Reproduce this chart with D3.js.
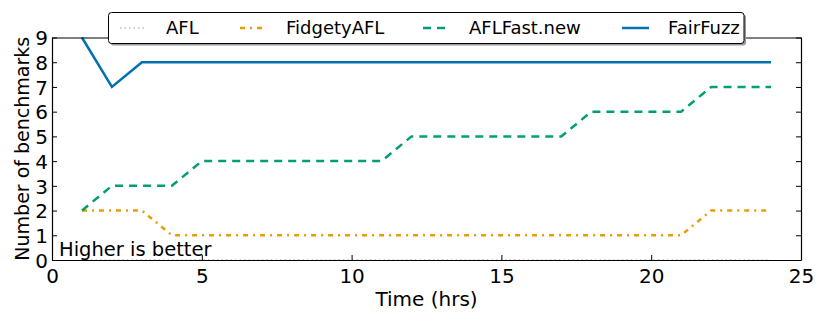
<!DOCTYPE html>
<html>
<head>
<meta charset="utf-8">
<script src="https://cdn.jsdelivr.net/npm/d3@7"></script>
<style>
  body { margin: 0; background: #fff; }
  text { font-family: "DejaVu Sans", sans-serif; }
</style>
</head>
<body>
<div id="chart"></div>
<script>
const width = 830;
const height = 315;

// data
const hours = [1, 2, 3, 4, 5, 6, 7, 8, 9, 10, 11, 12, 13, 14, 15, 16, 17, 18, 19, 20, 21, 22, 23, 24];
const afl = [0, 0, 0, 0, 0, 0, 0, 0, 0, 0, 0, 0, 0, 0, 0, 0, 0, 0, 0, 0, 0, 0, 0, 0];
const fidgety = [2, 2, 2, 1, 1, 1, 1, 1, 1, 1, 1, 1, 1, 1, 1, 1, 1, 1, 1, 1, 1, 2, 2, 2];
const aflfast = [2, 3, 3, 3, 4, 4, 4, 4, 4, 4, 4, 5, 5, 5, 5, 5, 5, 6, 6, 6, 6, 7, 7, 7];
const fairfuzz = [9, 7, 8, 8, 8, 8, 8, 8, 8, 8, 8, 8, 8, 8, 8, 8, 8, 8, 8, 8, 8, 8, 8, 8];
const xTicks = [0, 5, 10, 15, 20, 25];
const yTicks = [0, 1, 2, 3, 4, 5, 6, 7, 8, 9];

const series = [
  { name: 'AFL', values: afl, color: '#999999', dash: '1.5,3', width: 1.2 },
  { name: 'FidgetyAFL', values: fidgety, color: '#E69F00', dash: '5,5,2,5', width: 2.5 },
  { name: 'AFLFast.new', values: aflfast, color: '#009E73', dash: '8,6', width: 2.5 },
  { name: 'FairFuzz', values: fairfuzz, color: '#0072B2', dash: null, width: 2.5 }
];

const margin = { left: 52, right: 29, top: 37.5, bottom: 55 };

const x = d3.scaleLinear().domain([0, 25]).range([margin.left, width - margin.right]);
const y = d3.scaleLinear().domain([0, 9]).range([height - margin.bottom, margin.top]);

const svg = d3.select('#chart')
  .append('svg')
  .attr('width', width)
  .attr('height', height);

// clip so lines sit inside the axes box
svg.append('defs').append('clipPath')
  .attr('id', 'plot-clip')
  .append('rect')
  .attr('x', x(0))
  .attr('y', y(9) - 2)
  .attr('width', x(25) - x(0))
  .attr('height', y(0) - y(9) + 2);

const line = d3.line()
  .x((d, i) => x(hours[i]))
  .y(d => y(d));

svg.append('g')
  .attr('clip-path', 'url(#plot-clip)')
  .selectAll('path')
  .data(series)
  .enter()
  .append('path')
  .attr('d', d => line(d.values))
  .attr('fill', 'none')
  .attr('stroke', d => d.color)
  .attr('stroke-width', d => d.width)
  .attr('stroke-dasharray', d => d.dash);

// axes, ticks inward on all four sides
const tickLen = 5;
svg.append('g')
  .attr('transform', `translate(0,${y(0)})`)
  .call(d3.axisBottom(x).tickValues(xTicks).tickSizeInner(-tickLen).tickSizeOuter(0).tickPadding(8))
  .call(g => g.selectAll('text').attr('font-size', 20).attr('fill', '#000').attr('dy', '0.75em'));

svg.append('g')
  .attr('transform', `translate(0,${y(9)})`)
  .call(d3.axisTop(x).tickValues(xTicks).tickSizeInner(-tickLen).tickSizeOuter(0))
  .call(g => g.selectAll('text').remove());

svg.append('g')
  .attr('transform', `translate(${x(0)},0)`)
  .call(d3.axisLeft(y).tickValues(yTicks).tickSizeInner(-tickLen).tickSizeOuter(0).tickPadding(4))
  .call(g => g.selectAll('text').attr('font-size', 20).attr('fill', '#000').attr('dy', '0.36em'));

svg.append('g')
  .attr('transform', `translate(${x(25)},0)`)
  .call(d3.axisRight(y).tickValues(yTicks).tickSizeInner(-tickLen).tickSizeOuter(0))
  .call(g => g.selectAll('text').remove());

svg.selectAll('.domain').attr('stroke', '#000').attr('stroke-width', 1.2);
svg.selectAll('.tick line').attr('stroke', '#000');

// axis titles
svg.append('text')
  .attr('x', (x(0) + x(25)) / 2)
  .attr('y', 306)
  .attr('text-anchor', 'middle')
  .attr('font-size', 20)
  .text('Time (hrs)');

svg.append('text')
  .attr('transform', `translate(29,${(y(0) + y(9)) / 2}) rotate(-90)`)
  .attr('text-anchor', 'middle')
  .attr('font-size', 19)
  .text('Number of benchmarks');

svg.append('text')
  .attr('x', x(0) + 7)
  .attr('y', y(0) - 4)
  .attr('font-size', 19.5)
  .text('Higher is better');

// legend box with shadow
const lg = { x: 108.5, y: 12.5, w: 635.5, h: 31 };
svg.append('rect')
  .attr('x', lg.x + 2).attr('y', lg.y + 2)
  .attr('width', lg.w).attr('height', lg.h)
  .attr('rx', 3)
  .attr('fill', '#999');
svg.append('rect')
  .attr('x', lg.x).attr('y', lg.y)
  .attr('width', lg.w).attr('height', lg.h)
  .attr('rx', 3)
  .attr('fill', '#fff')
  .attr('stroke', '#000')
  .attr('stroke-width', 1);

const legendX = [120, 240, 423, 622];
const item = svg.append('g')
  .selectAll('g')
  .data(series)
  .enter()
  .append('g')
  .attr('transform', (d, i) => `translate(${legendX[i]},${lg.y + lg.h / 2})`);

item.append('line')
  .attr('x1', 0).attr('x2', 27)
  .attr('stroke', d => d.color)
  .attr('stroke-width', d => d.width)
  .attr('stroke-dasharray', d => d.dash);

item.append('text')
  .attr('x', 46)
  .attr('dy', '0.36em')
  .attr('font-size', 18)
  .text(d => d.name);
</script>
</body>
</html>
